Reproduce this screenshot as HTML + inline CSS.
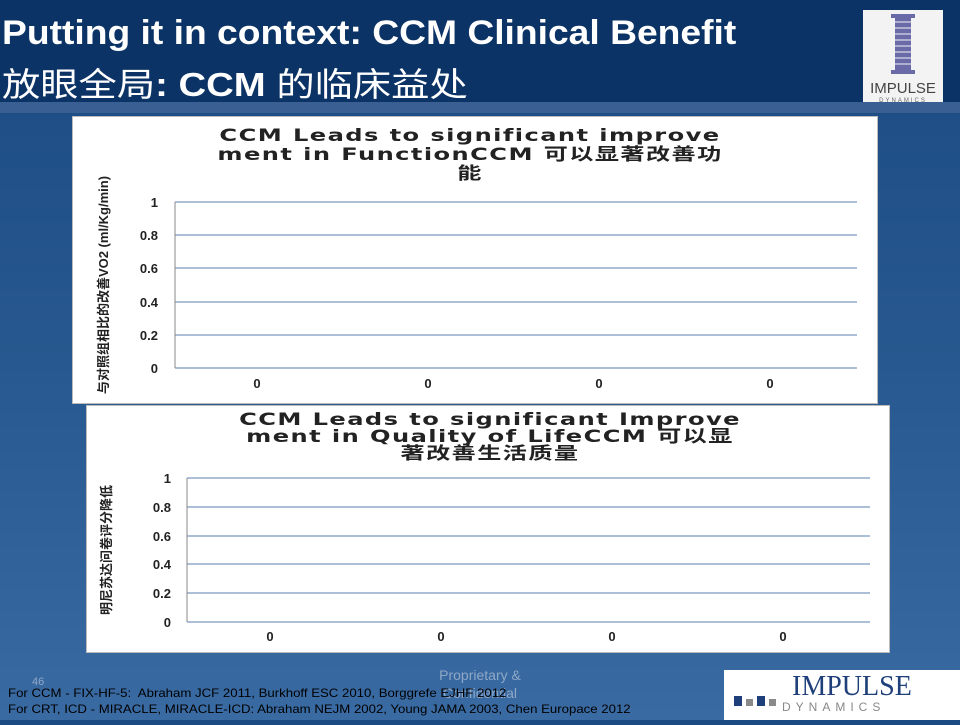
<!DOCTYPE html>
<html><head><meta charset="utf-8"><style>
body{margin:0;width:960px;height:720px;overflow:hidden;position:relative;font-family:"Liberation Sans","Noto Sans CJK SC",sans-serif;background:linear-gradient(180deg,#1b4a82 0%,#27588f 50%,#3a6aa2 100%);}
.hdr{position:absolute;left:0;top:0;width:960px;height:102px;background:#0c3366;}
.band{position:absolute;left:0;top:102px;width:960px;height:11px;background:#3a5f92;}
.t1{position:absolute;left:2px;top:14px;color:#fff;font-weight:bold;font-size:34px;transform:scaleX(1.095);transform-origin:0 0;white-space:nowrap;}
.t2{position:absolute;left:2px;top:58px;color:#fff;font-size:33px;transform:scaleX(1.16);transform-origin:0 0;white-space:nowrap;}
.logo{position:absolute;left:863px;top:10px;width:80px;height:92px;background:#f3f3f3;}
.box{position:absolute;background:#fff;border:1px solid #bbb;}
.ct{position:absolute;text-align:center;font-weight:bold;font-size:17px;color:#222;line-height:19px;letter-spacing:1px;font-family:"DejaVu Sans","Noto Sans CJK SC",sans-serif;transform:scaleX(1.42);transform-origin:50% 0;}
.foot{position:absolute;font-size:12px;color:#000;transform:scaleX(1.1);transform-origin:0 0;white-space:nowrap;}
</style></head><body>
<div class="hdr"></div><div class="band"></div>
<div class="t1">Putting it in context: CCM Clinical Benefit</div>
<div class="t2">放眼全局<b>: CCM</b> 的临床益处</div>
<div class="logo">
<svg width="80" height="92"><g fill="#6a6aa8"><rect x="28" y="4" width="24" height="4"/><rect x="32" y="8" width="16" height="52"/><rect x="28" y="60" width="24" height="4"/></g>
<g stroke="#f3f3f3" stroke-width="1"><line x1="30" y1="12" x2="50" y2="12"/><line x1="30" y1="18" x2="50" y2="18"/><line x1="30" y1="24" x2="50" y2="24"/><line x1="30" y1="30" x2="50" y2="30"/><line x1="30" y1="36" x2="50" y2="36"/><line x1="30" y1="42" x2="50" y2="42"/><line x1="30" y1="48" x2="50" y2="48"/><line x1="30" y1="54" x2="50" y2="54"/></g>
<text x="40" y="83" text-anchor="middle" font-size="15" fill="#444" font-family="Liberation Sans">IMPULSE</text>
<text x="40" y="92" text-anchor="middle" font-size="6" fill="#666" font-family="Liberation Sans" letter-spacing="2">DYNAMICS</text></svg></div>

<div class="box" style="left:72px;top:116px;width:804px;height:286px;"></div>
<div class="ct" style="left:170px;top:127px;width:600px;">CCM Leads to significant improve<br>ment in FunctionCCM 可以显著改善功<br>能</div>
<svg style="position:absolute;left:0;top:0" width="960" height="720" font-family="Liberation Sans" font-weight="bold" font-size="13" fill="#222">
<g stroke="#5a7fb0" stroke-width="1">
<line x1="175" y1="202" x2="857" y2="202"/><line x1="175" y1="235" x2="857" y2="235"/><line x1="175" y1="268" x2="857" y2="268"/><line x1="175" y1="302" x2="857" y2="302"/><line x1="175" y1="335" x2="857" y2="335"/><line x1="175" y1="368" x2="857" y2="368"/>
<line x1="175" y1="202" x2="175" y2="368" stroke="#888"/>
</g>
<g text-anchor="end"><text x="158" y="207">1</text><text x="158" y="240">0.8</text><text x="158" y="273">0.6</text><text x="158" y="307">0.4</text><text x="158" y="340">0.2</text><text x="158" y="373">0</text></g>
<g text-anchor="middle"><text x="257" y="388">0</text><text x="428" y="388">0</text><text x="599" y="388">0</text><text x="770" y="388">0</text></g>
<text transform="translate(108,285) rotate(-90)" text-anchor="middle" font-size="13" font-family="Liberation Sans,Noto Sans CJK SC,sans-serif">与对照组相比的改善VO2 (ml/Kg/min)</text>
</svg>

<div class="box" style="left:86px;top:405px;width:802px;height:246px;"></div>
<div class="ct" style="left:190px;top:412px;width:600px;line-height:17px;">CCM Leads to significant Improve<br>ment in Quality of LifeCCM 可以显<br>著改善生活质量</div>
<svg style="position:absolute;left:0;top:0" width="960" height="720" font-family="Liberation Sans" font-weight="bold" font-size="13" fill="#222">
<g stroke="#5a7fb0" stroke-width="1">
<line x1="187" y1="478" x2="870" y2="478"/><line x1="187" y1="507" x2="870" y2="507"/><line x1="187" y1="536" x2="870" y2="536"/><line x1="187" y1="564" x2="870" y2="564"/><line x1="187" y1="593" x2="870" y2="593"/><line x1="187" y1="622" x2="870" y2="622"/>
<line x1="187" y1="478" x2="187" y2="622" stroke="#888"/>
</g>
<g text-anchor="end"><text x="171" y="483">1</text><text x="171" y="512">0.8</text><text x="171" y="541">0.6</text><text x="171" y="569">0.4</text><text x="171" y="598">0.2</text><text x="171" y="627">0</text></g>
<g text-anchor="middle"><text x="270" y="641">0</text><text x="441" y="641">0</text><text x="612" y="641">0</text><text x="783" y="641">0</text></g>
<text transform="translate(111,550) rotate(-90)" text-anchor="middle" font-size="13" font-family="Liberation Sans,Noto Sans CJK SC,sans-serif">明尼苏达问卷评分降低</text>
<text x="32" y="685" font-size="11" font-weight="normal" fill="#8fa8c8">46</text>
<text x="480" y="680" text-anchor="middle" font-size="14" font-weight="normal" fill="#8fa8c8">Proprietary &amp;</text>
<text x="480" y="698" text-anchor="middle" font-size="14" font-weight="normal" fill="#8fa8c8">Confidential</text>
</svg>
<div class="foot" style="left:8px;top:686px;">For CCM - FIX-HF-5:&nbsp; Abraham JCF 2011, Burkhoff ESC 2010, Borggrefe EJHF 2012</div>
<div class="foot" style="left:8px;top:702px;">For CRT, ICD - MIRACLE, MIRACLE-ICD: Abraham NEJM 2002, Young JAMA 2003, Chen Europace 2012</div>
<div style="position:absolute;left:724px;top:670px;width:236px;height:50px;background:#fff;">
<svg width="236" height="50"><rect x="10" y="26" width="8" height="10" fill="#1f3f7a"/><rect x="22" y="29" width="7" height="7" fill="#8a8a8a"/><rect x="33" y="26" width="8" height="10" fill="#1f3f7a"/><rect x="45" y="29" width="7" height="7" fill="#8a8a8a"/>
<text x="68" y="25" font-family="Liberation Serif" font-size="28" fill="#1f3f7a">IMPULSE</text>
<text x="58" y="41" font-family="Liberation Sans" font-size="12" fill="#888" letter-spacing="5">DYNAMICS</text></svg></div>
</body></html>
